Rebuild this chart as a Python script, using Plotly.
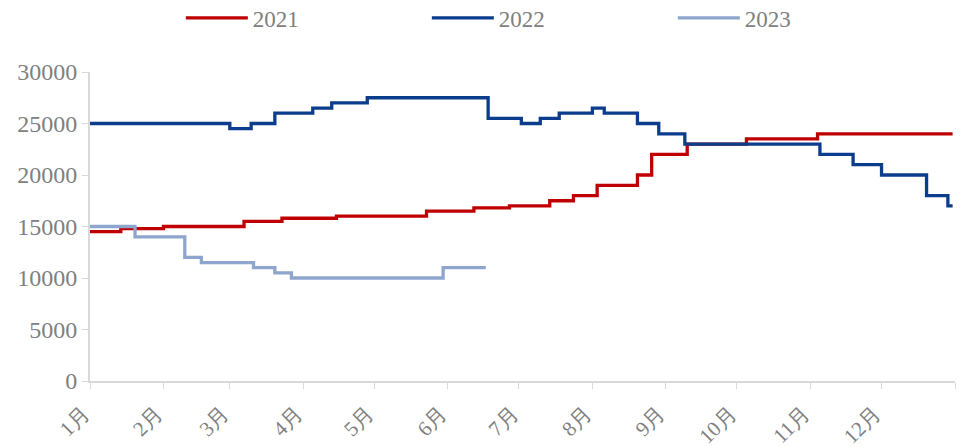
import plotly.graph_objects as go

# ---- data ----
base_year = "2021"
month_labels = ["1月", "2月", "3月", "4月", "5月", "6月", "7月", "8月", "9月", "10月", "11月", "12月"]

dates_2021 = ["01-01", "01-14", "02-01", "03-07", "03-23", "04-15", "05-23", "06-12", "06-27",
              "07-14", "07-24", "08-03", "08-20", "08-26", "09-10", "10-05", "11-04", "12-31"]
vals_2021 = [14500, 14800, 15000, 15500, 15800, 16000, 16500, 16800, 17000,
             17500, 18000, 19000, 20000, 22000, 23000, 23500, 24000, 24000]

dates_2022 = ["01-01", "03-01", "03-10", "03-20", "04-05", "04-13", "04-28", "06-18", "07-02",
              "07-10", "07-18", "08-01", "08-06", "08-20", "08-29", "09-09", "11-05", "11-19",
              "12-01", "12-20", "12-29", "12-31"]
vals_2022 = [25000, 24500, 25000, 26000, 26500, 27000, 27500, 25500, 25000,
             25500, 26000, 26500, 26000, 25000, 24000, 23000, 22000, 21000,
             20000, 18000, 17000, 17000]

dates_2023 = ["01-01", "01-20", "02-10", "02-17", "03-11", "03-20", "03-27", "05-30", "06-17"]
vals_2023 = [15000, 14000, 12000, 11500, 11000, 10500, 10000, 11000, 11000]

series = [
    ("2021", dates_2021, vals_2021, "#C00000"),
    ("2022", dates_2022, vals_2022, "#0B3D8C"),
    ("2023", dates_2023, vals_2023, "#8EA6CE"),
]

fig = go.Figure()
for name, d, v, col in series:
    fig.add_trace(go.Scatter(
        x=[f"{base_year}-{s}" for s in d], y=v, name=name, mode="lines",
        line=dict(color=col, width=3.3, shape="hv"),
    ))

tickvals = [f"{base_year}-{m:02d}-01" for m in range(1, 13)] + ["2022-01-01"]
ticktext = month_labels + [""]

font_family = "Liberation Serif"
gray = "#808080"
axis_gray = "#D9D9D9"

fig.update_layout(
    width=962, height=447,
    margin=dict(l=90, r=7, t=72, b=66, autoexpand=False),
    paper_bgcolor="white", plot_bgcolor="white",
    font=dict(family=font_family, color=gray, size=20),
    showlegend=True,
    legend=dict(orientation="h", x=0.105, xanchor="left", y=1.175, yanchor="middle",
                font=dict(family=font_family, size=23, color=gray),
                itemwidth=62, entrywidth=169, traceorder="normal"),
    xaxis=dict(type="date", range=["2021-01-01", "2022-01-01"],
               tickmode="array", tickvals=tickvals, ticktext=ticktext,
               tickangle=-45, showgrid=False, showline=True, linecolor=axis_gray, linewidth=2,
               ticks="outside", ticklen=6, tickcolor=axis_gray, tickwidth=1,
               tickfont=dict(family=font_family, size=21, color=gray), zeroline=False,
               ticklabelshift=-7, ticklabelstandoff=4,
               automargin=False),
    yaxis=dict(range=[0, 30000], dtick=5000, tickformat="d", showgrid=False,
               showline=True, linecolor=axis_gray, linewidth=2,
               ticks="outside", ticklen=6, tickcolor=axis_gray, tickwidth=1,
               tickfont=dict(family=font_family, size=24, color=gray), zeroline=False,
               automargin=False),
)

fig.write_html("out.html", config={"displayModeBar": False},
               post_script="document.body.style.margin='0';")
